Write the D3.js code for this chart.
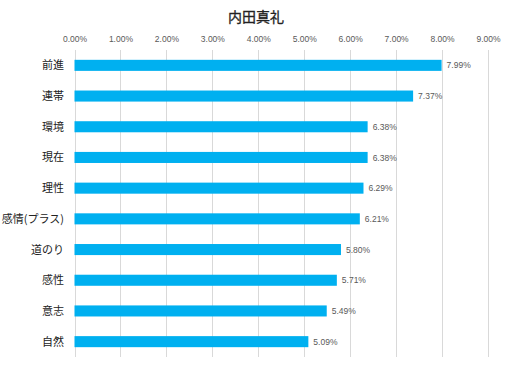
<!DOCTYPE html>
<html>
<head>
<meta charset="utf-8">
<script src="https://cdn.jsdelivr.net/npm/d3@7"></script>
<style>
  body { margin: 0; background: #fff; }
  svg { font-family: "Noto Sans CJK JP", "Noto Sans", sans-serif; }
</style>
</head>
<body>
<div id="chart"></div>
<script>
const title = '内田真礼';
const categories = ['前進', '連帯', '環境', '現在', '理性', '感情(プラス)', '道のり', '感性', '意志', '自然'];
const values = [7.99, 7.37, 6.38, 6.38, 6.29, 6.21, 5.80, 5.71, 5.49, 5.09];
const ticks = [0, 1, 2, 3, 4, 5, 6, 7, 8, 9];

const width = 511, height = 369;
const margin = {top: 50, right: 23, bottom: 12, left: 74.5};

const svg = d3.select('#chart').append('svg')
    .attr('width', width)
    .attr('height', height);

const x = d3.scaleLinear()
    .domain([0, 9])
    .range([margin.left, width - margin.right]);

const y = d3.scaleBand()
    .domain(categories)
    .range([margin.top, height - margin.bottom])
    .paddingInner(0.64)
    .paddingOuter(0.32);

// title
svg.append('text')
    .attr('x', 256)
    .attr('y', 22)
    .attr('text-anchor', 'middle')
    .attr('font-size', 14)
    .attr('fill', '#222')
    .style('stroke', '#222')
    .style('stroke-width', 0.3)
    .text(title);

// gridlines
svg.append('g')
  .selectAll('line')
  .data(ticks)
  .enter().append('line')
    .attr('x1', d => Math.round(x(d)) + 0.5)
    .attr('x2', d => Math.round(x(d)) + 0.5)
    .attr('y1', margin.top)
    .attr('y2', height - margin.bottom)
    .attr('stroke', '#d9d9d9')
    .attr('stroke-width', 1);

// top axis labels
const xAxis = d3.axisTop(x)
    .tickValues(ticks)
    .tickSize(0)
    .tickPadding(0)
    .tickFormat(d => d.toFixed(2) + '%');

const gx = svg.append('g')
    .attr('transform', 'translate(0,' + 42 + ')')
    .call(xAxis);
gx.select('.domain').remove();
gx.selectAll('text')
    .attr('font-family', '"Liberation Sans", "DejaVu Sans", sans-serif')
    .attr('font-size', 8.5)
    .attr('fill', '#595959');

// category labels
svg.append('g')
  .selectAll('text')
  .data(categories)
  .enter().append('text')
    .attr('x', 64)
    .attr('y', d => y(d) + y.bandwidth() / 2)
    .attr('dy', '0.36em')
    .attr('text-anchor', 'end')
    .attr('font-size', 11)
    .attr('fill', '#222')
    .text(d => d);

// bars
svg.append('g')
  .selectAll('rect')
  .data(values)
  .enter().append('rect')
    .attr('x', x(0))
    .attr('y', (d, i) => y(categories[i]))
    .attr('width', d => x(d) - x(0))
    .attr('height', y.bandwidth())
    .attr('fill', '#00b0f0');

// value labels
svg.append('g')
  .selectAll('text')
  .data(values)
  .enter().append('text')
    .attr('x', d => x(d) + 5)
    .attr('y', (d, i) => y(categories[i]) + y.bandwidth() / 2)
    .attr('dy', '0.36em')
    .attr('font-family', '"Liberation Sans", "DejaVu Sans", sans-serif')
    .attr('font-size', 8.5)
    .attr('fill', '#595959')
    .text(d => d.toFixed(2) + '%');
</script>
</body>
</html>
